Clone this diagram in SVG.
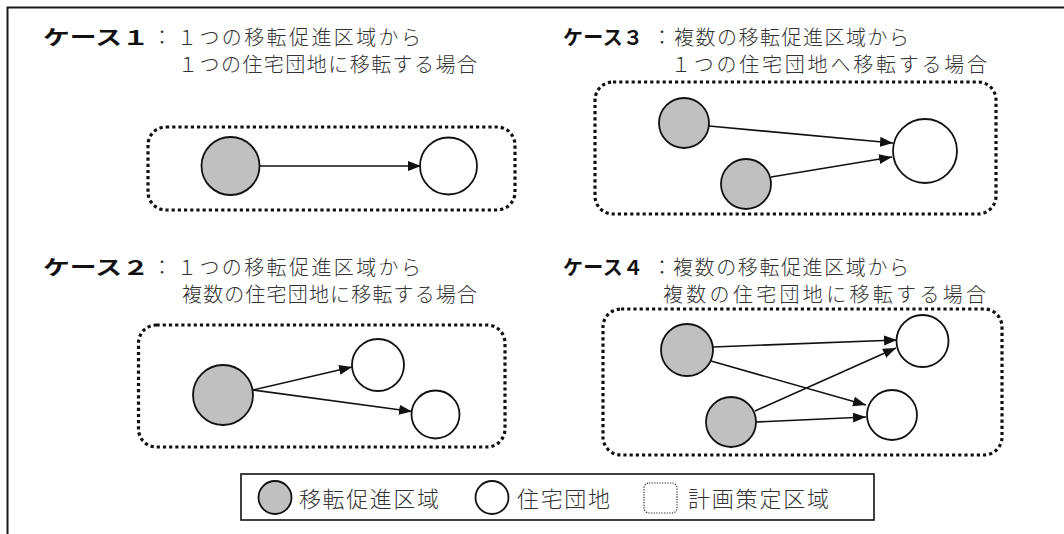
<svg xmlns="http://www.w3.org/2000/svg" width="1064" height="534" viewBox="0 0 1064 534">
<defs>
<style>
.frame{fill:none;stroke:#1a1a1a;stroke-width:2}
.area{fill:none;stroke:#111;stroke-width:3.2;stroke-dasharray:3.2 3}
.src{fill:#c0c0c0;stroke:#111;stroke-width:1.8}
.dst{fill:#fff;stroke:#111;stroke-width:1.8}
.edge{stroke:#111;stroke-width:1.6;fill:none;marker-end:url(#ah)}
.head{font-family:"Noto Sans CJK JP","Noto Sans CJK SC",sans-serif;font-weight:700;font-size:20px;fill:#111}
.body{font-family:"Noto Sans CJK JP","Noto Sans CJK SC",sans-serif;font-weight:300;font-size:20px;fill:#333}
.leg{font-family:"Noto Sans CJK JP","Noto Sans CJK SC",sans-serif;font-weight:300;font-size:22px;fill:#333}
</style>
<marker id="ah" markerWidth="14" markerHeight="11" refX="13" refY="5" orient="auto" markerUnits="userSpaceOnUse">
<path d="M0,0 L13,5 L0,10 z" fill="#111"/>
</marker>
</defs>
<rect x="0" y="0" width="1064" height="534" fill="#fff"/>
<path class="frame" d="M7.5,534 V7.5 H1064"/>

<g id="case1">
<text class="head" x="43" y="45" textLength="106" lengthAdjust="spacingAndGlyphs">ケース１</text>
<text class="body" x="162" y="45" text-anchor="middle">：</text>
<text class="body" x="177" y="45" textLength="244" lengthAdjust="spacing">１つの移転促進区域から</text>
<text class="body" x="178" y="72" textLength="299" lengthAdjust="spacing">１つの住宅団地に移転する場合</text>
<rect id="area1" class="area" x="148" y="127" width="367" height="83" rx="18"/>
<circle id="c1-src" class="src" cx="230.5" cy="166" r="29"/>
<circle id="c1-dst" class="dst" cx="448.5" cy="166" r="28.5"/>
</g>

<g id="case2">
<text class="head" x="43" y="275" textLength="106" lengthAdjust="spacingAndGlyphs">ケース２</text>
<text class="body" x="162" y="275" text-anchor="middle">：</text>
<text class="body" x="177" y="275" textLength="244" lengthAdjust="spacing">１つの移転促進区域から</text>
<text class="body" x="182" y="302" textLength="295" lengthAdjust="spacing">複数の住宅団地に移転する場合</text>
<rect id="area2" class="area" x="138.5" y="325" width="366.5" height="122" rx="18"/>
<circle id="c2-src" class="src" cx="223" cy="395" r="30"/>
<circle id="c2-dst1" class="dst" cx="378" cy="365" r="26"/>
<circle id="c2-dst2" class="dst" cx="435.5" cy="414.5" r="24"/>
</g>

<g id="case3">
<text class="head" x="563" y="45" textLength="80" lengthAdjust="spacing">ケース３</text>
<text class="body" x="662" y="45" text-anchor="middle">：</text>
<text class="body" x="674" y="45" textLength="235" lengthAdjust="spacing">複数の移転促進区域から</text>
<text class="body" x="671" y="72" textLength="316" lengthAdjust="spacing">１つの住宅団地へ移転する場合</text>
<rect id="area3" class="area" x="595" y="82" width="401" height="132" rx="18"/>
<circle id="c3-src1" class="src" cx="684" cy="123" r="25"/>
<circle id="c3-src2" class="src" cx="746" cy="184" r="25"/>
<circle id="c3-dst" class="dst" cx="925" cy="151" r="32"/>
</g>

<g id="case4">
<text class="head" x="563" y="275" textLength="80" lengthAdjust="spacing">ケース４</text>
<text class="body" x="662" y="275" text-anchor="middle">：</text>
<text class="body" x="673" y="275" textLength="236" lengthAdjust="spacing">複数の移転促進区域から</text>
<text class="body" x="663" y="302" textLength="323" lengthAdjust="spacing">複数の住宅団地に移転する場合</text>
<rect id="area4" class="area" x="603" y="309" width="399" height="146" rx="18"/>
<circle id="c4-src1" class="src" cx="687" cy="350" r="26"/>
<circle id="c4-src2" class="src" cx="731" cy="422" r="25"/>
<circle id="c4-dst1" class="dst" cx="922.5" cy="341" r="26"/>
<circle id="c4-dst2" class="dst" cx="892" cy="415" r="25"/>
</g>

<g id="connectors">
<path class="edge" d="M260,166 L421,166"/>
<path class="edge" d="M253,390 L352,367"/>
<path class="edge" d="M253,390 L412,411.5"/>
<path class="edge" d="M709,126 L893,143"/>
<path class="edge" d="M771,177 L892,157"/>
<path class="edge" d="M713,347 L897,340"/>
<path class="edge" d="M711,361 L866,405"/>
<path class="edge" d="M755,411 L896,348"/>
<path class="edge" d="M756,422 L866,417"/>
</g>

<g id="legend">
<rect x="241" y="474" width="633" height="46" fill="#fff" stroke="#111" stroke-width="1.6"/>
<circle class="src" cx="275" cy="497.5" r="16.5"/>
<text class="leg" x="299" y="507" textLength="140" lengthAdjust="spacing">移転促進区域</text>
<circle class="dst" cx="492" cy="497.5" r="16.5"/>
<text class="leg" x="517" y="507" textLength="93" lengthAdjust="spacing">住宅団地</text>
<rect x="644" y="483" width="33" height="30" rx="5" fill="none" stroke="#333" stroke-width="1.2" stroke-dasharray="1.3 1.3"/>
<text class="leg" x="688" y="507" textLength="141" lengthAdjust="spacing">計画策定区域</text>
</g>
</svg>
